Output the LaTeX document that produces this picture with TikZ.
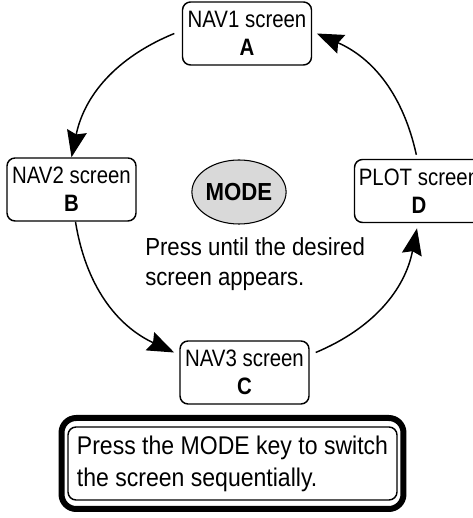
\documentclass[tikz,border=0pt]{standalone}
\usepackage{fontspec}
\setmainfont{Liberation Sans}[FakeStretch=0.9]
\newfontfamily\screenfont{Liberation Sans}[FakeStretch=0.86]
\usetikzlibrary{arrows.meta,shapes.geometric,fit}

\tikzset{
    screen/.style={draw, line width=1.1pt, rounded corners=6pt, minimum width=96.75pt, minimum height=47.25pt,
        inner sep=0pt, align=center, font=\screenfont\fontsize{17.8}{21}\selectfont},
    flow/.style={line width=1.1pt, -{Stealth[length=20pt,width=15pt,inset=2.5pt]}},
    modekey/.style={ellipse, draw, line width=0.8pt, fill=gray!30, minimum width=66pt, minimum height=48pt,
        inner sep=0pt, font=\bfseries\fontsize{18.5}{22}\selectfont},
    hint/.style={anchor=north west, inner sep=0pt, align=left, font=\fontsize{18.5}{22.5}\selectfont},
    note/.style={draw, line width=1.1pt, rounded corners=6pt, minimum width=246.75pt, minimum height=54.75pt,
        inner sep=0pt, align=left, font=\fontsize{19.2}{24}\selectfont},
    noteframe/.style={draw, line width=4.5pt, rounded corners=11pt, inner xsep=4.3pt, inner ysep=6.2pt}
}

\begin{document}
\begin{tikzpicture}[x=0.75pt,y=0.75pt]
    % Page
    \useasboundingbox (0,0) rectangle (472,518);

    % Screens
    \node[screen] (navA) at (247,484.5) {NAV1 screen\\\textbf{A}};
    \node[screen] (navB) at (71.5,328.5) {NAV2 screen\\\textbf{B}};
    \node[screen] (navC) at (244.5,145.5) {NAV3 screen\\\textbf{C}};
    \node[screen] (plotD) at (419,327) {PLOT screen\\\textbf{D}};

    % Key and hint
    \node[modekey] (mode) at (239,326) {MODE};
    \node[hint] (press) at (145,281) {Press until the desired\\screen appears.};

    % Cycle
    \draw[flow] ([xshift=-5.6pt]navA.west) to[bend right=28] (navB.north);
    \draw[flow] ([xshift=3pt]navB.south) to[bend right=28] ([xshift=-3.8pt,yshift=15pt]navC.west);
    \draw[flow] ([xshift=4.5pt,yshift=15pt]navC.east) to[bend right=28] ([xshift=-1.5pt,yshift=-3.8pt]plotD.south);
    \draw[flow] ([xshift=-2pt,yshift=3pt]plotD.north) to[bend right=27] ([xshift=3.4pt]navA.east);

    % Note
    \node[note] (note) at (232.5,54.5) {Press the MODE key to switch\\the screen sequentially.};
    \node[noteframe, fit=(note)] (frame) {};
\end{tikzpicture}
\end{document}
